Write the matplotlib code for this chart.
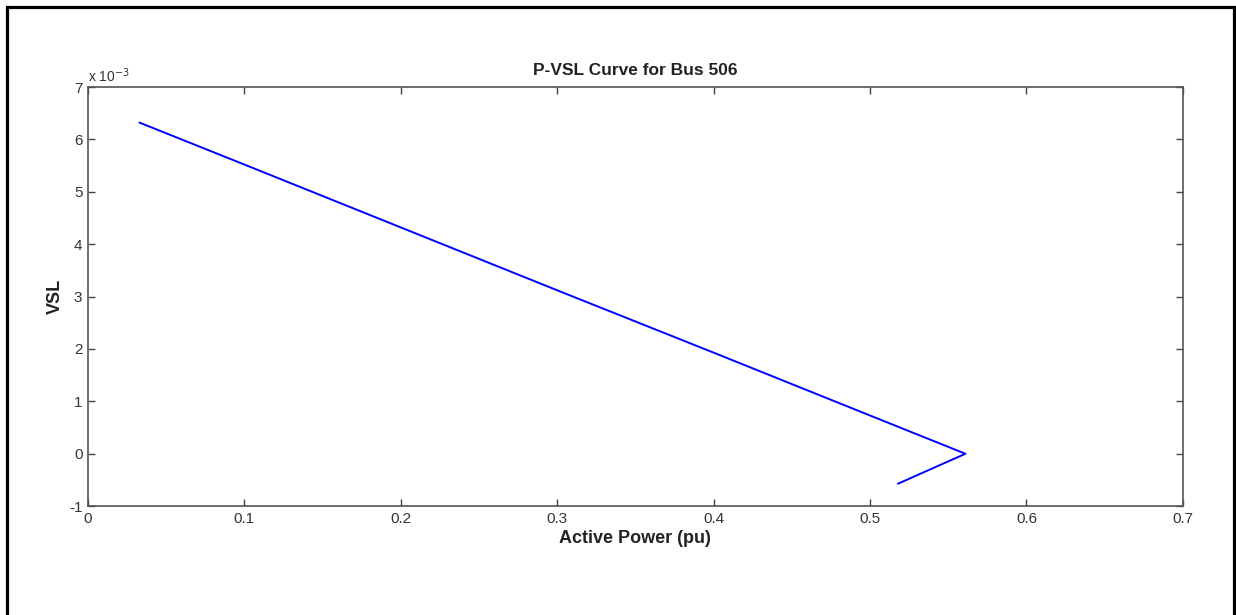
import matplotlib.pyplot as plt
from matplotlib.patches import Rectangle

# P-VSL curve (VSL in units of 1e-3)
power = [0.033, 0.1, 0.2, 0.3, 0.4, 0.5, 0.561, 0.518]
vsl = [6.32, 5.52, 4.32, 3.12, 1.93, 0.73, 0.0, -0.57]

x_ticks = [0, 0.1, 0.2, 0.3, 0.4, 0.5, 0.6, 0.7]
y_ticks = [-1, 0, 1, 2, 3, 4, 5, 6, 7]

plt.rcParams['font.family'] = ['Liberation Sans', 'DejaVu Sans']

fig = plt.figure(figsize=(12.36, 6.15), dpi=100)
# outer frame, bottom edge runs off the image
fig.patches.append(Rectangle((0.0053, -0.05), 0.9931, 1.0386, transform=fig.transFigure,
                             fill=False, edgecolor='black', linewidth=2.3))

ax = fig.add_axes([0.0712, 0.177, 0.8858, 0.6815])
ax.plot(power, vsl, color=(0, 0, 1), linewidth=1.4)

ax.set_xlim(0, 0.7)
ax.set_ylim(-1, 7)
ax.set_xticks(x_ticks)
ax.set_xticklabels([f'{t:g}' for t in x_ticks])
ax.set_yticks(y_ticks)
ax.set_yticklabels([str(t) for t in y_ticks])
ax.tick_params(direction='in', length=5, width=1, colors='#444444',
               labelcolor='#333333', labelsize=11, top=True, right=True, pad=4)
for s in ax.spines.values():
    s.set_color('#555555')
    s.set_linewidth(1.2)

ax.set_title('P-VSL Curve for Bus 506', fontsize=12.5, fontweight='bold', color='#222222', pad=9)
ax.set_xlabel('Active Power (pu)', fontsize=13, fontweight='bold', color='#222222', labelpad=3)
ax.set_ylabel('VSL', fontsize=13, fontweight='bold', color='#222222', labelpad=4)
ax.text(0.0, 1.004, r'x 10$^{-3}$', transform=ax.transAxes, fontsize=10,
        color='#333333', ha='left', va='bottom')

plt.savefig('out.png', dpi=100)
